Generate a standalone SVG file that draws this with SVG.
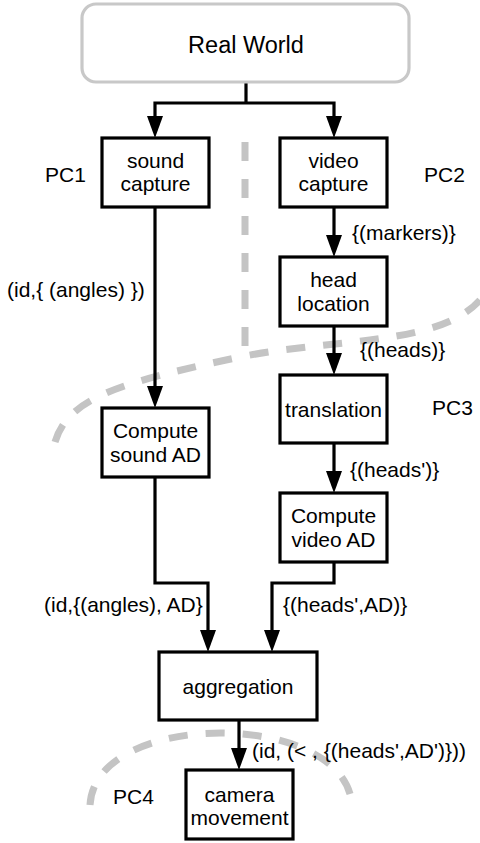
<svg xmlns="http://www.w3.org/2000/svg" width="480" height="843" viewBox="0 0 480 843">
<style>
text{font-family:"Liberation Sans",Arial,sans-serif;font-size:21px;fill:#000}
.c{text-anchor:middle}
.box{fill:#fff;stroke:#000;stroke-width:3.2}
.ln{fill:none;stroke:#000;stroke-width:3.2}
.arr{marker-end:url(#ah)}
.dash{fill:none;stroke:#c4c4c4;stroke-width:7;stroke-dasharray:19 18}
</style>
<defs>
<marker id="ah" markerUnits="userSpaceOnUse" markerWidth="22" markerHeight="16" refX="2" refY="8" orient="auto">
<path d="M0,0 L22,8 L0,16 z" fill="#000"/>
</marker>
</defs>
<rect width="480" height="843" fill="#fff"/>
<g id="boundaries">
<path class="dash" d="M245 142 V352"/>
<path class="dash" d="M55 442 C68 398 120 382 245 356 C340 338 440 345 480 300"/>
<path class="dash" d="M90 805 C95 709 345 709 352 805"/>
</g>
<g id="connectors">
<path class="ln" d="M246 82 V103"/>
<path class="ln arr" d="M246 103 H155 V118"/>
<path class="ln arr" d="M246 103 H334 V118"/>
<path class="ln arr" d="M155 207 V388"/>
<path class="ln arr" d="M334 207 V237"/>
<path class="ln arr" d="M334 326 V355"/>
<path class="ln arr" d="M334 443 V473"/>
<path class="ln arr" d="M155 477 V583 H208 V632"/>
<path class="ln arr" d="M334 562 V583 H272 V632"/>
<path class="ln arr" d="M239 720 V750"/>
</g>
<g id="real-world">
<rect x="82" y="4" width="327" height="78" rx="14" fill="#fff" stroke="#c8c8c8" stroke-width="3.2"/>
<text class="c" x="246" y="53" style="font-size:23.5px">Real World</text>
</g>
<g id="sound-capture">
<rect class="box" x="102" y="138" width="107" height="69"/>
<text class="c" x="155.5" y="168">sound</text>
<text class="c" x="155.5" y="191">capture</text>
</g>
<g id="video-capture">
<rect class="box" x="280" y="138" width="107" height="69"/>
<text class="c" x="333.5" y="168">video</text>
<text class="c" x="333.5" y="191">capture</text>
</g>
<g id="head-location">
<rect class="box" x="280" y="257" width="107" height="69"/>
<text class="c" x="333.5" y="287">head</text>
<text class="c" x="333.5" y="311">location</text>
</g>
<g id="translation">
<rect class="box" x="280" y="375" width="107" height="68"/>
<text class="c" x="333.5" y="417">translation</text>
</g>
<g id="compute-sound-ad">
<rect class="box" x="102" y="408" width="107" height="69"/>
<text class="c" x="155.5" y="438">Compute</text>
<text class="c" x="155.5" y="462">sound AD</text>
</g>
<g id="compute-video-ad">
<rect class="box" x="280" y="493" width="107" height="69"/>
<text class="c" x="333.5" y="523">Compute</text>
<text class="c" x="333.5" y="547">video AD</text>
</g>
<g id="aggregation">
<rect class="box" x="159" y="652" width="158" height="68"/>
<text class="c" x="238" y="694">aggregation</text>
</g>
<g id="camera-movement">
<rect class="box" x="186" y="770" width="107" height="69"/>
<text class="c" x="239.5" y="802">camera</text>
<text class="c" x="239.5" y="825">movement</text>
</g>
<g id="labels">
<text x="45" y="182">PC1</text>
<text x="424" y="182">PC2</text>
<text x="432" y="415">PC3</text>
<text x="113" y="804">PC4</text>
<text x="352" y="240">{(markers)}</text>
<text x="7" y="297">(id,{ (angles) })</text>
<text x="360" y="357">{(heads)}</text>
<text x="350" y="477">{(heads')}</text>
<text x="44" y="612">(id,{(angles), AD}</text>
<text x="283" y="612">{(heads',AD)}</text>
<text x="252" y="758">(id, (&lt; , {(heads',AD')}))</text>
</g>
</svg>
